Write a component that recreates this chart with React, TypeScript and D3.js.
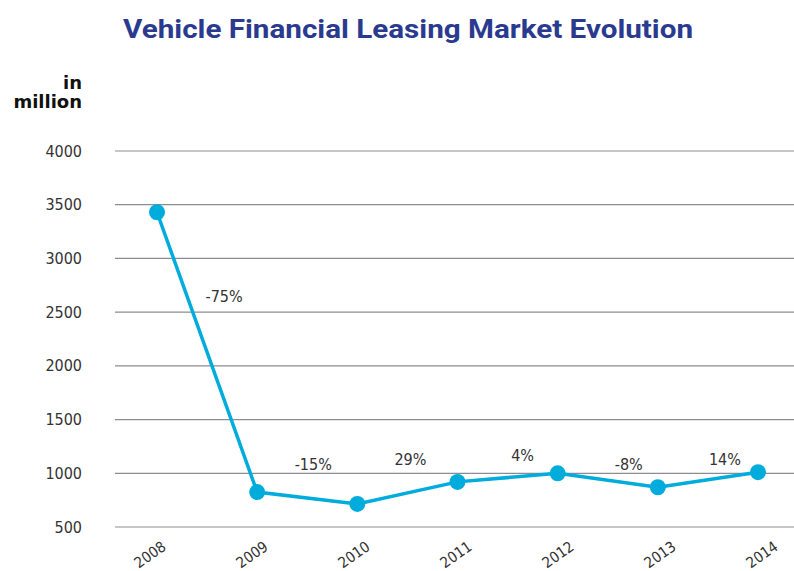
import * as d3 from 'd3';
import React from 'react';

const years = [2008, 2009, 2010, 2011, 2012, 2013, 2014];
const values = [3430, 825, 715, 920, 1000, 870, 1010];
const yTicks = [500, 1000, 1500, 2000, 2500, 3000, 3500, 4000];
const changeLabels = ['-75%', '-15%', '29%', '4%', '-8%', '14%'];
// where each change label sits, in data units (year, value)
const changeYears = [2008.67, 2009.56, 2010.53, 2011.65, 2012.71, 2013.67];
const changeValues = [2650, 1080, 1125, 1170, 1080, 1130];

const width = 794;
const height = 571;
const blue = '#00acdc';
const font = "'DejaVu Sans Condensed', 'Roboto', sans-serif";

const App: React.FC = () => {
  const x = d3.scaleLinear().domain([2008, 2014]).range([157, 758]);
  const y = d3.scaleLinear().domain([500, 4000]).range([527, 151]);
  // the year labels are spaced a touch wider than the points
  const xLabel = d3.scaleLinear().domain([2008, 2014]).range([167, 779]);

  const line = d3
    .line<number>()
    .x((_, i) => x(years[i]))
    .y((d) => y(d));

  return (
    <svg
      width={width}
      height={height}
      style={{ position: 'absolute', left: 0, top: 0, background: 'white' }}
    >
      <text
        x={408}
        y={38}
        textAnchor='middle'
        fontFamily="'Roboto', sans-serif"
        fontWeight='bold'
        fontSize={26}
        fill='#2a3b8f'
        textLength={570}
        lengthAdjust='spacingAndGlyphs'
      >
        Vehicle Financial Leasing Market Evolution
      </text>

      <g fontFamily="'DejaVu Sans', sans-serif" fontWeight='bold' fontSize={18} fill='#111' textAnchor='end'>
        <text x={82} y={89}>in</text>
        <text x={82} y={108}>million</text>
      </g>

      <g>
        {yTicks.map((t) => (
          <g key={t}>
            <line x1={115} x2={width} y1={y(t)} y2={y(t)} stroke='#8a8d92' strokeWidth={1.2} />
            <text
              x={82}
              y={y(t)}
              dy='0.35em'
              textAnchor='end'
              fontFamily={font}
              fontSize={16}
              fill='#333'
            >
              {t}
            </text>
          </g>
        ))}
      </g>

      <g>
        {years.map((yr) => (
          <text
            key={yr}
            transform={`translate(${xLabel(yr)},${549}) rotate(-35)`}
            textAnchor='end'
            fontFamily={font}
            fontSize={15}
            fill='#333'
          >
            {yr}
          </text>
        ))}
      </g>

      <path d={line(values) || ''} fill='none' stroke={blue} strokeWidth={3.5} />
      {values.map((v, i) => (
        <circle key={i} cx={x(years[i])} cy={y(v)} r={8} fill={blue} />
      ))}

      <g fontFamily={font} fontSize={16} fill='#333' textAnchor='middle'>
        {changeLabels.map((l, i) => (
          <text key={l} x={x(changeYears[i])} y={y(changeValues[i])} dy='0.35em'>
            {l}
          </text>
        ))}
      </g>
    </svg>
  );
};

export default App;
